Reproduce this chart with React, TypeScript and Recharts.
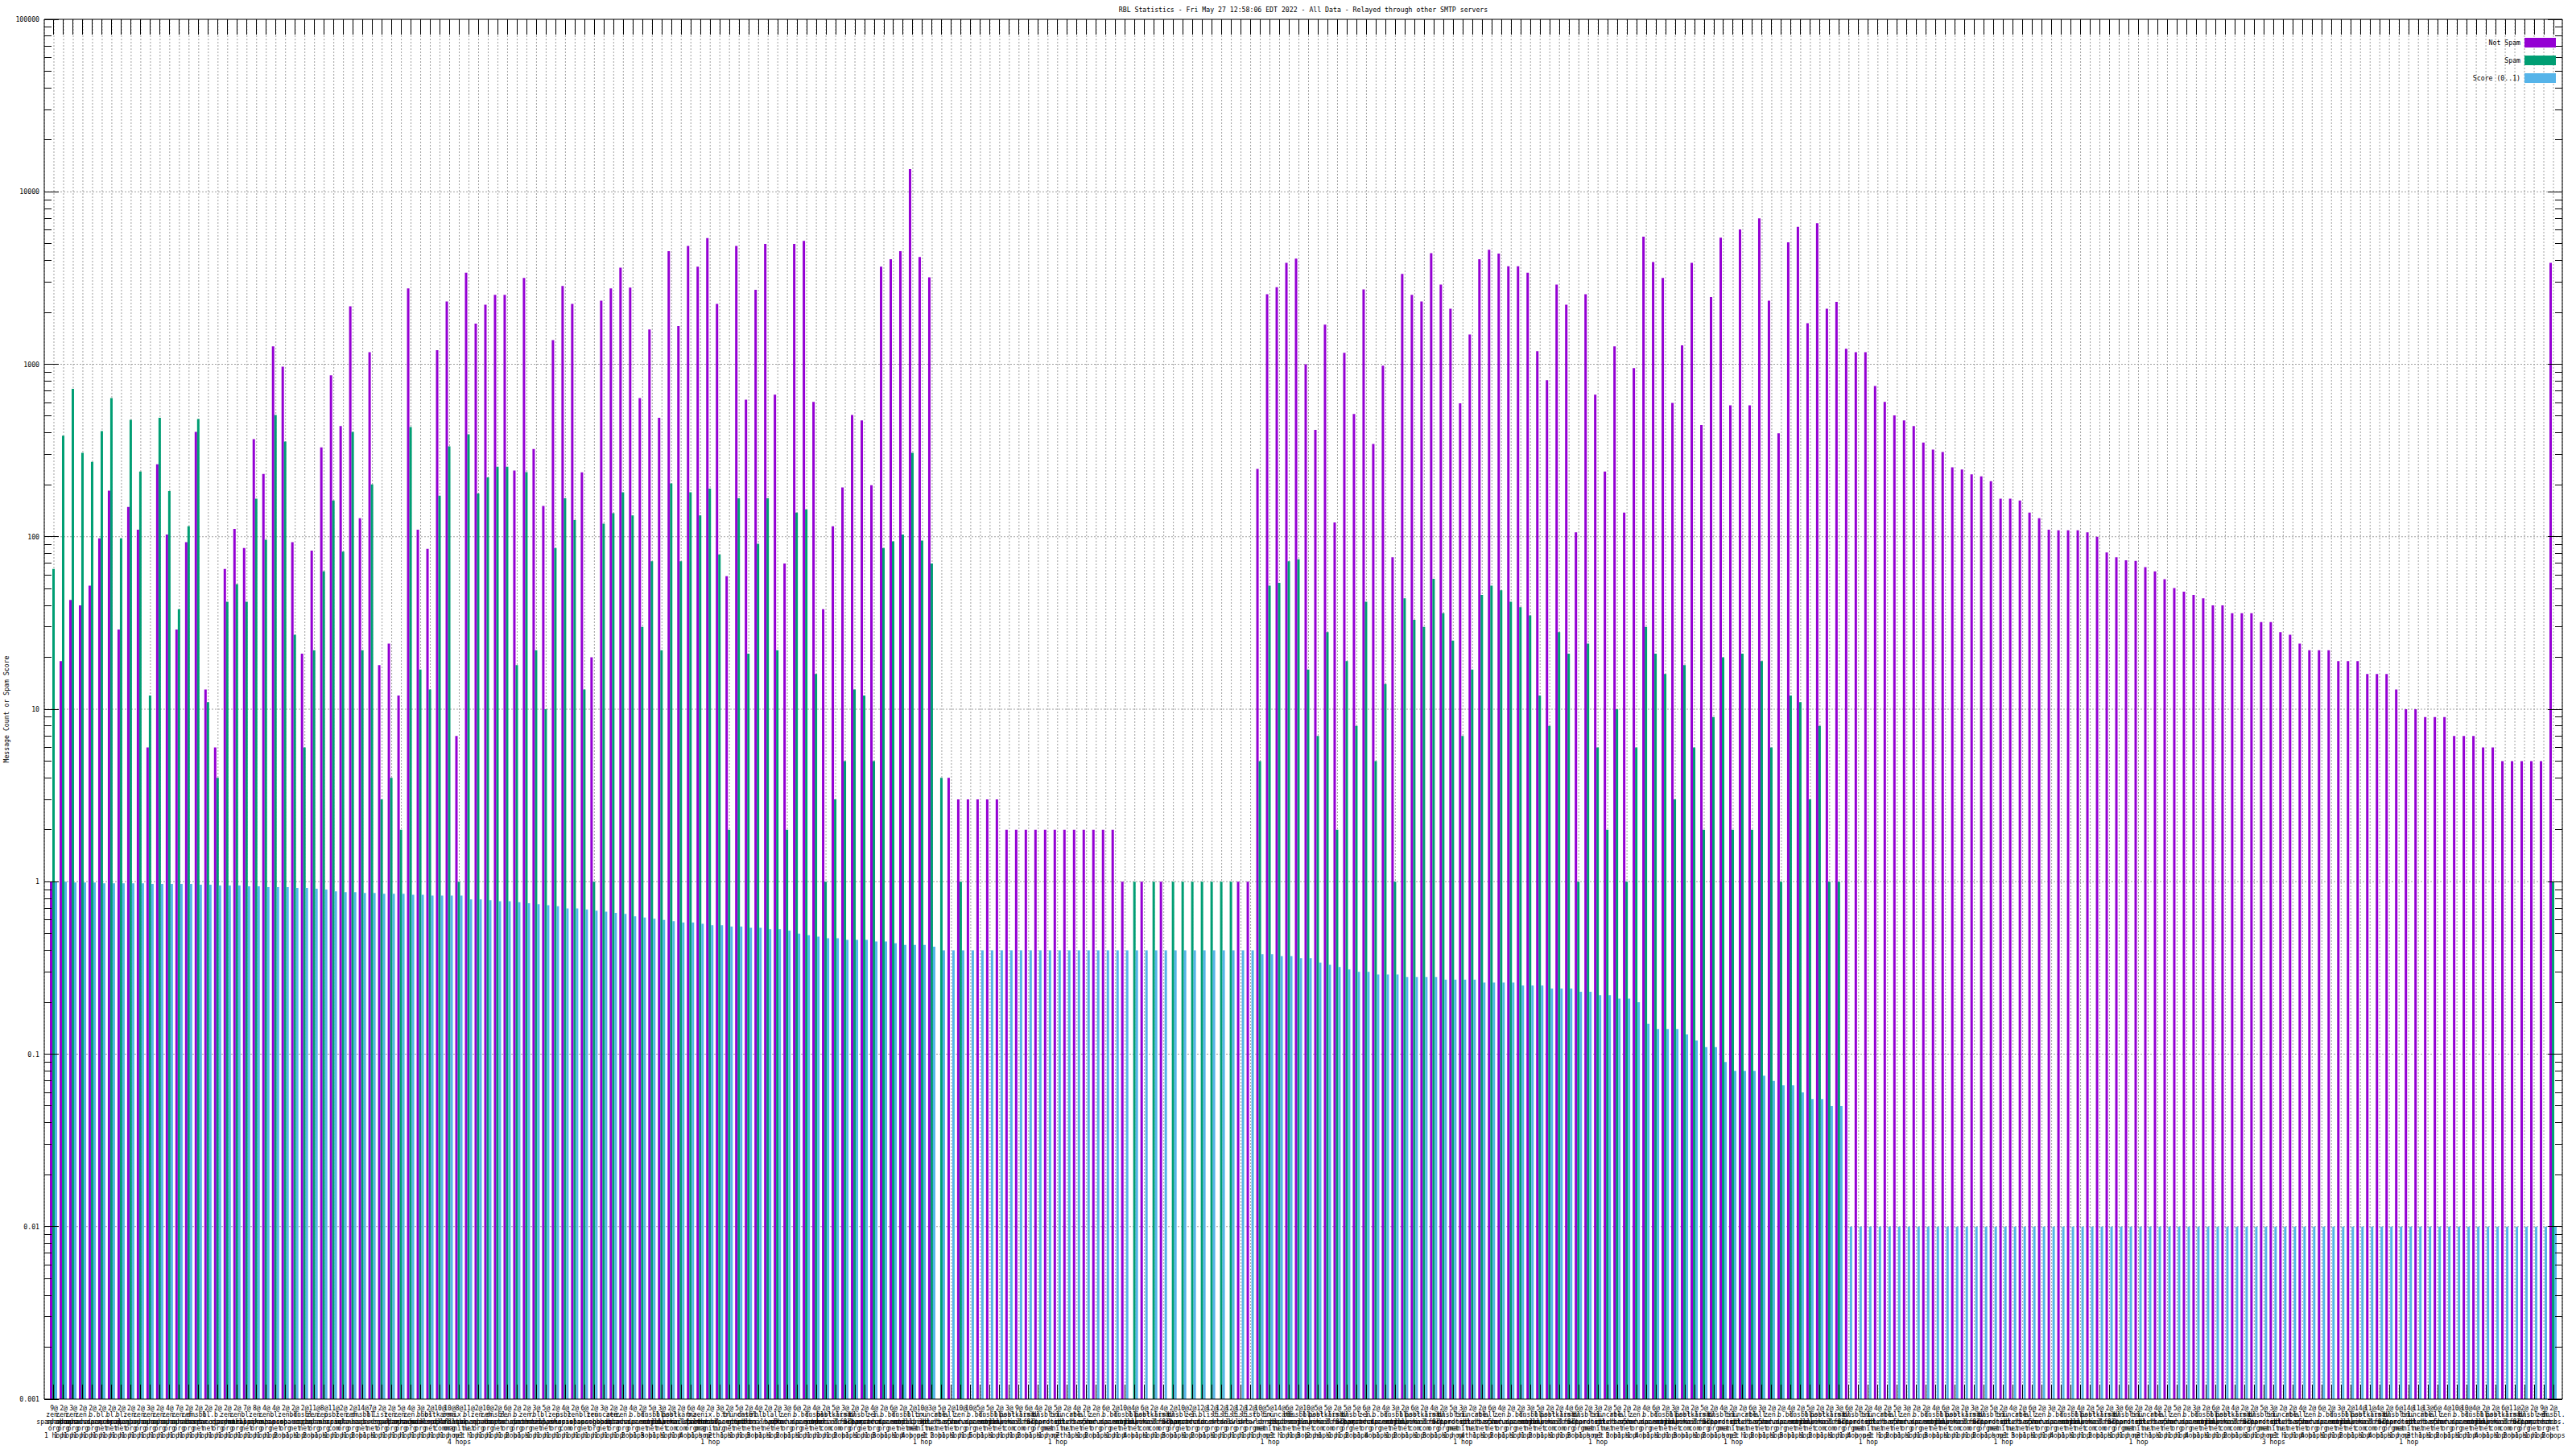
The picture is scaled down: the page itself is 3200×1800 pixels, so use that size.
import React from 'react';
import { BarChart, Bar, XAxis, YAxis, CartesianGrid, ReferenceLine } from 'recharts';

const FONT = '"DejaVu Sans Mono", monospace';
const PURPLE = '#9400d3';
const GREEN = '#009e73';
const BLUE = '#56b4e9';

const notSpam: (number | null)[] = [
  1, 19, 43, 40, 52, 98, 185, 29, 149, 110,
  6, 263, 103, 29, 93, 405, 13, 6, 65, 111,
  86, 368, 231, 1270, 968, 93, 21, 83, 330, 862,
  438, 2170, 128, 1175, 18, 24, 12, 2750, 110, 85,
  1206, 2315, 7, 3400, 1720, 2215, 2530, 2530, 242, 3170,
  323, 151, 1380, 2845, 2240, 236, 20, 2340, 2750, 3630,
  2780, 637, 1590, 489, 4525, 1665, 4860, 3680, 5390, 2240,
  59, 4860, 624, 2700, 4990, 666, 70, 4990, 5190, 605,
  38, 115, 193, 508, 473, 199, 3680, 4060, 4525, 13540,
  4190, 3190, null, 4, 3, 3, 3, 3, 3, 2,
  2, 2, 2, 2, 2, 2, 2, 2, 2, 2,
  2, 1, null, 1, null, 1, null, null, null, null,
  null, null, null, 1, 1, 247, 2550, 2800, 3870, 4100,
  1000, 416, 1700, 121, 1167, 515, 2720, 345, 981, 76,
  3340, 2530, 2315, 4410, 2900, 2100, 593, 1490, 4060, 4610,
  4380, 3700, 3700, 3400, 1190, 808, 2900, 2215, 106, 2550,
  666, 239, 1270, 138, 950, 5490, 3920, 3170, 597, 1286,
  3870, 444, 2450, 5420, 578, 6050, 578, 7020, 2340, 398,
  5090, 6260, 1730, 6570, 2100, 2300, 1230, 1175, 1175, 748,
  605, 505, 473, 438, 352, 320, 310, 253, 245, 230,
  224, 210, 166, 166, 162, 138, 128, 110, 109, 109,
  109, 106, 100, 81, 76, 73, 72.5, 66.6, 63, 56.7,
  50.4, 48, 46, 44, 40, 40, 36, 36, 36, 32,
  32, 28, 27, 24, 22, 22, 22, 19, 19, 19,
  16, 16, 16, 13, 10, 10, 9, 9, 9, 7,
  7, 7, 6, 6, 5, 5, 5, 5, 5, 3870,
];

const spam: (number | null)[] = [
  65, 385, 720, 307, 272, 410, 637, 98, 476, 239,
  12, 489, 184, 38, 115, 482, 11, 4, 42, 53,
  42, 166, 96, 508, 356, 27, 6, 22, 63, 162,
  82, 405, 22, 201, 3, 4, 2, 433, 17, 13,
  173, 334, 1, 393, 178, 221, 255, 255, 18, 237,
  22, 10, 86, 167, 125, 13, 1, 119, 137, 181,
  133, 30, 72, 22, 204, 72, 181, 133, 190, 79,
  2, 167, 21, 91, 167, 22, 2, 138, 144, 16,
  1, 3, 5, 13, 12, 5, 86, 94, 103, 307,
  95, 70, 4, null, 1, null, null, null, null, null,
  null, null, null, null, null, null, null, null, null, null,
  null, null, 1, null, 1, null, 1, 1, 1, 1,
  1, 1, 1, null, null, 5, 52, 54, 72, 74,
  17, 7, 28, 2, 19, 8, 42, 5, 14, 1,
  44, 33, 30, 57, 36, 25, 7, 17, 46, 52,
  49, 42, 39, 35, 12, 8, 28, 21, 1, 24,
  6, 2, 10, 1, 6, 30, 21, 16, 3, 18,
  6, 2, 9, 20, 2, 21, 2, 19, 6, 1,
  12, 11, 3, 8, 1, 1, null, null, null, null,
  null, null, null, null, null, null, null, null, null, null,
  null, null, null, null, null, null, null, null, null, null,
  null, null, null, null, null, null, null, null, null, null,
  null, null, null, null, null, null, null, null, null, null,
  null, null, null, null, null, null, null, null, null, null,
  null, null, null, null, null, null, null, null, null, null,
  null, null, null, null, null, null, null, null, null, 1,
];

const score: number[] = [
  1, 1, 0.99, 0.99, 0.99, 0.98, 0.98, 0.98, 0.98, 0.98,
  0.97, 0.97, 0.97, 0.97, 0.97, 0.96, 0.96, 0.95, 0.95, 0.95,
  0.94, 0.94, 0.93, 0.93, 0.93, 0.92, 0.92, 0.91, 0.9, 0.88,
  0.87, 0.87, 0.86, 0.86, 0.85, 0.85, 0.85, 0.84, 0.84, 0.83,
  0.83, 0.83, 0.83, 0.79, 0.79, 0.78, 0.77, 0.77, 0.76, 0.75,
  0.74, 0.73, 0.72, 0.7, 0.7, 0.69, 0.68, 0.67, 0.66, 0.65,
  0.63, 0.62, 0.61, 0.6, 0.59, 0.58, 0.58, 0.57, 0.56, 0.56,
  0.55, 0.55, 0.54, 0.54, 0.53, 0.53, 0.52, 0.5, 0.49, 0.48,
  0.47, 0.47, 0.46, 0.46, 0.46, 0.45, 0.45, 0.44, 0.43, 0.43,
  0.43, 0.42, 0.4, 0.4, 0.4, 0.4, 0.4, 0.4, 0.4, 0.4,
  0.4, 0.4, 0.4, 0.4, 0.4, 0.4, 0.4, 0.4, 0.4, 0.4,
  0.4, 0.4, 0.4, 0.4, 0.4, 0.4, 0.4, 0.4, 0.4, 0.4,
  0.4, 0.4, 0.4, 0.4, 0.4, 0.38, 0.38, 0.37, 0.37, 0.36,
  0.36, 0.34, 0.33, 0.32, 0.31, 0.3, 0.3, 0.29, 0.29, 0.29,
  0.28, 0.28, 0.28, 0.28, 0.27, 0.27, 0.27, 0.27, 0.26, 0.26,
  0.26, 0.26, 0.25, 0.25, 0.25, 0.24, 0.24, 0.24, 0.23, 0.23,
  0.22, 0.22, 0.21, 0.21, 0.2, 0.15, 0.14, 0.14, 0.14, 0.13,
  0.12, 0.11, 0.11, 0.09, 0.08, 0.08, 0.08, 0.075, 0.07, 0.066,
  0.066, 0.06, 0.055, 0.055, 0.05, 0.05, 0.01, 0.01, 0.01, 0.01,
  0.01, 0.01, 0.01, 0.01, 0.01, 0.01, 0.01, 0.01, 0.01, 0.01,
  0.01, 0.01, 0.01, 0.01, 0.01, 0.01, 0.01, 0.01, 0.01, 0.01,
  0.01, 0.01, 0.01, 0.01, 0.01, 0.01, 0.01, 0.01, 0.01, 0.01,
  0.01, 0.01, 0.01, 0.01, 0.01, 0.01, 0.01, 0.01, 0.01, 0.01,
  0.01, 0.01, 0.01, 0.01, 0.01, 0.01, 0.01, 0.01, 0.01, 0.01,
  0.01, 0.01, 0.01, 0.01, 0.01, 0.01, 0.01, 0.01, 0.01, 0.01,
  0.01, 0.01, 0.01, 0.01, 0.01, 0.01, 0.01, 0.01, 0.01, 0.01,
];

// x tick labels: "<count>@<rbl> <hops>"
const labelCounts: number[] = [
  9, 2, 3, 2, 2, 2, 2, 2, 2, 2, 3, 2, 4, 7, 2, 2, 2, 2, 2, 2,
  7, 8, 4, 4, 2, 2, 2, 11, 8, 11, 2, 2, 14, 7, 2, 2, 5, 4, 3, 2,
  10, 10, 8, 11, 2, 10, 2, 6, 2, 2, 3, 5, 2, 4, 2, 6, 2, 3, 2, 2,
  4, 2, 5, 3, 2, 2, 6, 4, 2, 3, 2, 5, 2, 4, 2, 2, 3, 6, 2, 4,
  2, 5, 3, 2, 2, 4, 2, 6, 2, 2, 10, 3, 5, 2, 10, 10, 5, 5, 2, 3,
  9, 6, 4, 2, 5, 2, 4, 2, 2, 6, 2, 10, 4, 6, 2, 4, 2, 10, 2, 12,
  12, 12, 12, 12, 12, 10, 5, 14, 6, 2, 10, 5, 5, 2, 5, 5, 6, 2, 4, 3,
  2, 6, 2, 4, 2, 5, 3, 2, 2, 6, 4, 2, 2, 3, 5, 2, 2, 4, 6, 2,
  3, 2, 5, 2, 2, 4, 6, 2, 3, 2, 2, 5, 2, 4, 2, 2, 6, 3, 2, 2,
  4, 2, 5, 2, 2, 3, 6, 2, 2, 4, 2, 5, 3, 2, 2, 4, 6, 2, 2, 3,
  2, 5, 2, 4, 2, 6, 2, 3, 2, 2, 4, 2, 5, 2, 3, 6, 2, 2, 4, 2,
  5, 2, 3, 2, 6, 2, 4, 2, 2, 5, 3, 2, 2, 4, 2, 6, 2, 3, 2, 14,
  11, 4, 2, 6, 14, 11, 13, 6, 4, 10, 10, 4, 2, 2, 6, 11, 2, 2, 9, 2,
];

const RBLS: string[] = [
  'zen.spamhaus.org', 'b.barracudacentral.org', 'bl.spamcop.net', 'dnsbl.sorbs.net',
  'bl.mailspike.net', 'psbl.surriel.com', 'hostkarma.junkemailfilter.com', 'list.dnswl.org',
  'bl.0spam.org', 'dnsbl-1.uceprotect.net', 'ix.dnsbl.manitu.net', 'truncate.gbudb.net',
  'rbl.interserver.net', 'all.s5h.net',
];

const labelRbl =
  '00001222000000032100' + '40020230050032700014' + '60a2003010c405020b00' +
  '12345610a12b3c4d0123' + '5678901234abcd012345' + '6789abcd012345678901' +
  '77777cab234567890123' + '456789abcd0123456789' + 'abcd0123456789abcd01' +
  '23456789abcd01234567' + '89abcd0123456789abcd' + '0123456789abcd012345' +
  '6789abcd012345678903';

const labelHops =
  '11111111111111111111' + '11112112111121111111' + '11411111211111111111' +
  '21311141121113112111' + '11211131141121115111' + '12111711211141113112' +
  '11111111113211121411' + '21131114112111211131' + '11211411131121111211' +
  '31121114111211131111' + '21113111411121111311' + '11411121113111411121' +
  '14111311211141121112';

const tickLines = (i: number): string[] => {
  const rbl = RBLS[parseInt(labelRbl[i], 14)];
  const parts = rbl.split('.');
  const h = Number(labelHops[i]);
  return [
    `${labelCounts[i]}@`,
    ...parts.map((p, k) => (k < parts.length - 1 ? p + '.' : p)),
    `${h} hop${h > 1 ? 's' : ''}`,
  ];
};

const Y_MAJOR = [0.001, 0.01, 0.1, 1, 10, 100, 1000, 10000, 100000];
const Y_MAJOR_TEXT = ['0.001', '0.01', '0.1', '1', '10', '100', '1000', '10000', '100000'];
const Y_MINOR_MULT = [2, 3, 4, 5, 6, 7, 8, 9];

const yTicks: number[] = [];
Y_MAJOR.forEach((m, k) => {
  yTicks.push(m);
  if (k < Y_MAJOR.length - 1) Y_MINOR_MULT.forEach((f) => yTicks.push(m * f));
});

const majorIndex = (v: number) => {
  const l = Math.log10(v);
  return Math.abs(l - Math.round(l)) < 1e-6 ? Y_MAJOR.findIndex((m) => Math.abs(Math.log10(m) - l) < 1e-6) : -1;
};

const data = notSpam.map((v, i) => ({ key: i, notSpam: v, spam: spam[i], score: score[i] }));

const LeftTick = (props: any) => {
  const { x, y, payload } = props;
  const mi = majorIndex(payload.value);
  const len = mi >= 0 ? 18 : 9;
  return (
    <g>
      <line x1={x} x2={x + len} y1={y} y2={y} stroke="#000" strokeWidth={1} shapeRendering="crispEdges" />
      {mi >= 0 && (
        <text x={x - 6} y={y} dy={3} textAnchor="end" fontSize={8.2} fontFamily={FONT} fill="#000">
          {Y_MAJOR_TEXT[mi]}
        </text>
      )}
    </g>
  );
};

const RightTick = (props: any) => {
  const { x, y, payload } = props;
  const mi = majorIndex(payload.value);
  const len = mi >= 0 ? 18 : 9;
  return <line x1={x} x2={x - len} y1={y} y2={y} stroke="#000" strokeWidth={1} shapeRendering="crispEdges" />;
};

const TopTick = (props: any) => {
  const { x, y } = props;
  return <line x1={x} x2={x} y1={y} y2={y + 19} stroke="#000" strokeWidth={1} shapeRendering="crispEdges" />;
};

const BottomTick = (props: any) => {
  const { x, y, payload } = props;
  const lines = tickLines(payload.value);
  return (
    <g>
      <line x1={x} x2={x} y1={y} y2={y - 18} stroke="#000" strokeWidth={1} shapeRendering="crispEdges" />
      <text x={x} y={y} textAnchor="middle" fontSize={8} fontFamily={FONT} fill="#000">
        {lines.map((l, k) => (
          <tspan key={k} x={x} dy={k === 0 ? 13.5 : 8.5}>
            {l}
          </tspan>
        ))}
      </text>
    </g>
  );
};

const legendItems = [
  { label: 'Not Spam', color: PURPLE, top: 47 },
  { label: 'Spam', color: GREEN, top: 69 },
  { label: 'Score (0..1)', color: BLUE, top: 91 },
];

export default function App() {
  return (
    <div style={{ position: 'absolute', left: 0, top: 0, width: 3200, height: 1800, background: '#fff' }}>
      <BarChart
        width={3200}
        height={1800}
        data={data}
        margin={{ top: 0, right: 0, bottom: 0, left: 0 }}
        barGap={0}
        barSize={3}
      >
        <CartesianGrid
          xAxisId="bottom"
          yAxisId="left"
          horizontal={false}
          stroke="#a0a0a0"
          strokeDasharray="2 2"
        />
        {Y_MAJOR.slice(1, -1).map((v) => (
          <ReferenceLine
            key={v}
            xAxisId="bottom"
            yAxisId="left"
            y={v}
            stroke="#a0a0a0"
            strokeDasharray="2 2"
            zIndex={-50}
          />
        ))}
        <XAxis
          xAxisId="bottom"
          dataKey="key"
          type="category"
          interval={0}
          height={62}
          padding={{ left: 6, right: 5 }}
          tick={<BottomTick />}
          tickLine={false}
          tickSize={0}
          tickMargin={0}
          axisLine={{ stroke: '#000', strokeWidth: 1 }}
        />
        <XAxis
          xAxisId="top"
          orientation="top"
          dataKey="key"
          type="category"
          interval={0}
          height={24}
          padding={{ left: 6, right: 5 }}
          tick={<TopTick />}
          tickLine={false}
          tickSize={0}
          tickMargin={0}
          axisLine={{ stroke: '#000', strokeWidth: 1 }}
        />
        <YAxis
          yAxisId="left"
          type="number"
          scale="log"
          domain={[0.001, 100000]}
          allowDataOverflow
          ticks={yTicks}
          interval={0}
          width={55}
          tick={<LeftTick />}
          tickLine={false}
          tickSize={0}
          tickMargin={0}
          axisLine={{ stroke: '#000', strokeWidth: 1 }}
        />
        <YAxis
          yAxisId="right"
          orientation="right"
          type="number"
          scale="log"
          domain={[0.001, 100000]}
          allowDataOverflow
          ticks={yTicks}
          interval={0}
          width={17}
          tick={<RightTick />}
          tickLine={false}
          tickSize={0}
          tickMargin={0}
          axisLine={{ stroke: '#000', strokeWidth: 1 }}
        />
        <Bar xAxisId="bottom" yAxisId="left" dataKey="notSpam" fill={PURPLE} isAnimationActive={false} />
        <Bar xAxisId="bottom" yAxisId="left" dataKey="spam" fill={GREEN} isAnimationActive={false} />
        <Bar xAxisId="bottom" yAxisId="left" dataKey="score" fill={BLUE} isAnimationActive={false} />
      </BarChart>

      <div
        style={{
          position: 'absolute',
          left: 1619,
          top: 7,
          transform: 'translateX(-50%)',
          whiteSpace: 'nowrap',
          fontFamily: FONT,
          fontSize: 8.2,
          lineHeight: '10px',
          color: '#000',
        }}
      >
        RBL Statistics - Fri May 27 12:58:06 EDT 2022 - All Data - Relayed through other SMTP servers
      </div>

      <div
        style={{
          position: 'absolute',
          left: 8,
          top: 881,
          transform: 'translate(-50%, -50%) rotate(-90deg)',
          whiteSpace: 'nowrap',
          fontFamily: FONT,
          fontSize: 8.2,
          lineHeight: '10px',
          color: '#000',
        }}
      >
        Message Count or Spam Score
      </div>

      {legendItems.map((it) => (
        <React.Fragment key={it.label}>
          <div
            style={{
              position: 'absolute',
              right: 3200 - 3131,
              top: it.top + 1,
              whiteSpace: 'nowrap',
              fontFamily: FONT,
              fontSize: 8.2,
              lineHeight: '10px',
              color: '#000',
              textAlign: 'right',
            }}
          >
            {it.label}
          </div>
          <div
            style={{
              position: 'absolute',
              left: 3136,
              top: it.top,
              width: 39,
              height: 12,
              background: it.color,
            }}
          />
        </React.Fragment>
      ))}
    </div>
  );
}
